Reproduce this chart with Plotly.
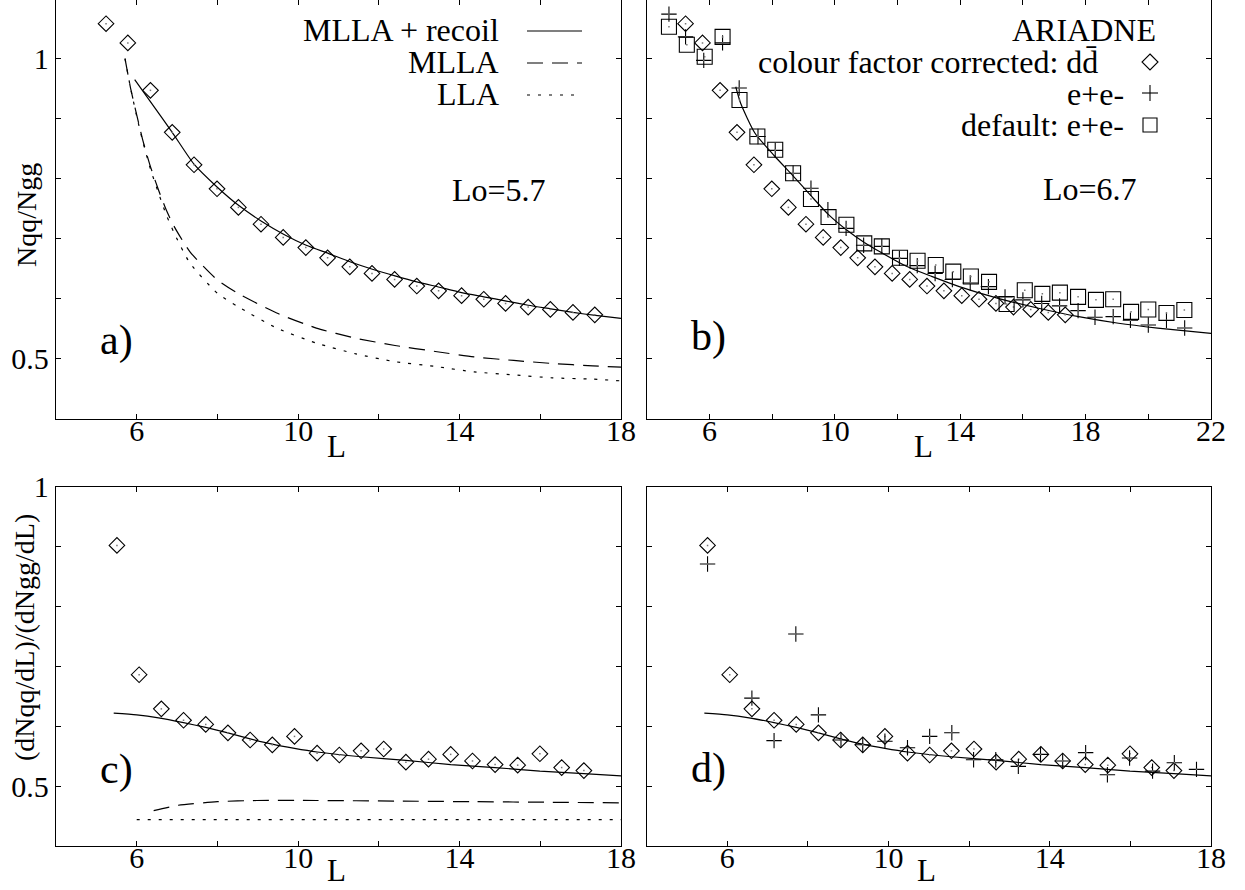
import plotly.graph_objects as go

# ---------------- data ----------------
# ARIADNE colour-factor-corrected d dbar (diamonds), panels a) and b)
L_dd = [5.24, 5.78, 6.34, 6.88, 7.42, 7.99, 8.52, 9.08, 9.63, 10.19, 10.73, 11.28,
        11.83, 12.39, 12.94, 13.48, 14.05, 14.6, 15.14, 15.70, 16.25, 16.81, 17.35]
N_dd = [1.058, 1.026, 0.947, 0.877, 0.823, 0.783, 0.752, 0.724, 0.702, 0.685, 0.668, 0.653,
        0.642, 0.632, 0.621, 0.613, 0.605, 0.599, 0.592, 0.586, 0.582, 0.577, 0.573]

# panel a) theory curves (Lo=5.7)
L_a_recoil = [5.95, 6.33, 6.88, 7.42, 7.99, 8.53, 9.09, 9.65, 10.2, 10.76, 11.3, 11.84,
              12.4, 12.94, 13.5, 14.05, 14.6, 15.16, 15.7, 16.26, 16.81, 17.37, 18.0]
N_a_recoil = [0.965, 0.929, 0.877, 0.824, 0.786, 0.755, 0.729, 0.707, 0.689, 0.675, 0.661, 0.649,
              0.638, 0.628, 0.619, 0.610, 0.603, 0.596, 0.589, 0.583, 0.577, 0.572, 0.567]
L_a_mlla = [5.71, 5.85, 6.0, 6.15, 6.34, 6.54, 6.73, 6.93, 7.32, 8.0, 8.5, 9.47, 10.45,
            11.43, 12.4, 13.4, 14.36, 15.34, 16.3, 17.3, 18.0]
N_a_mlla = [1.0, 0.950, 0.906, 0.864, 0.820, 0.781, 0.748, 0.720, 0.678, 0.631, 0.609, 0.576, 0.551,
            0.534, 0.522, 0.512, 0.503, 0.497, 0.492, 0.488, 0.486]
L_a_lla = [5.71, 5.85, 6.0, 6.15, 6.34, 6.54, 6.73, 6.93, 7.32, 8.0, 8.5, 9.47, 10.45,
           11.43, 12.4, 13.4, 14.36, 15.34, 16.3, 17.3, 18.0]
N_a_lla = [1.0, 0.950, 0.904, 0.862, 0.816, 0.776, 0.740, 0.709, 0.659, 0.609, 0.587, 0.551, 0.526,
           0.508, 0.495, 0.487, 0.478, 0.473, 0.468, 0.466, 0.463]

# panel b) ARIADNE e+e- (crosses) and default e+e- (squares), MLLA+recoil (Lo=6.7)
L_ee = [4.71, 5.24, 5.82, 6.42, 6.95, 7.55, 8.10, 8.67, 9.24, 9.78, 10.36, 10.92, 11.5, 12.06,
        12.63, 13.2, 13.75, 14.32, 14.9, 15.43, 16.0, 16.6, 17.17, 17.76, 18.3, 18.88, 19.43,
        20.0, 20.58, 21.16]
N_ee = [1.074, 1.036, 0.997, 1.026, 0.951, 0.870, 0.847, 0.809, 0.784, 0.748, 0.717, 0.689, 0.687,
        0.667, 0.655, 0.642, 0.632, 0.626, 0.620, 0.603, 0.598, 0.592, 0.588, 0.580, 0.569, 0.570,
        0.564, 0.556, 0.564, 0.551]
L_def = [4.71, 5.28, 5.85, 6.42, 6.96, 7.53, 8.10, 8.67, 9.24, 9.80, 10.37, 10.94, 11.5, 12.08,
         12.64, 13.22, 13.78, 14.34, 14.92, 15.48, 16.06, 16.62, 17.18, 17.76, 18.33, 18.88,
         19.45, 20.0, 20.58, 21.15]
N_def = [1.053, 1.023, 1.003, 1.036, 0.931, 0.870, 0.848, 0.809, 0.766, 0.736, 0.723, 0.692, 0.687,
         0.668, 0.663, 0.656, 0.645, 0.637, 0.628, 0.591, 0.614, 0.608, 0.610, 0.603, 0.598, 0.599,
         0.578, 0.582, 0.576, 0.581]
L_b_recoil = [6.84, 7.0, 7.45, 8.07, 8.66, 9.23, 9.8, 10.39, 10.93, 11.44, 12.32, 13.09, 13.97,
              15.24, 16.5, 17.78, 19.05, 20.3, 22.0]
N_b_recoil = [0.953, 0.925, 0.876, 0.838, 0.805, 0.772, 0.740, 0.714, 0.694, 0.678, 0.653, 0.637,
              0.620, 0.600, 0.584, 0.570, 0.559, 0.551, 0.542]

# panels c) and d): differential ratio
L_dif = [5.51, 6.06, 6.61, 7.16, 7.71, 8.26, 8.81, 9.36, 9.91, 10.47, 11.02, 11.56, 12.12, 12.67,
         13.23, 13.78, 14.32, 14.88, 15.44, 15.99, 16.53, 17.08]
R_dif = [0.902, 0.686, 0.629, 0.610, 0.603, 0.589, 0.577, 0.569, 0.583, 0.555, 0.552, 0.559, 0.562,
         0.540, 0.545, 0.553, 0.542, 0.536, 0.535, 0.554, 0.531, 0.526]
L_dif_ee = [5.51, 6.61, 7.16, 7.70, 8.26, 8.82, 9.36, 9.91, 10.47, 11.02, 11.57, 12.11, 12.66,
            13.22, 13.77, 14.32, 14.89, 15.43, 15.98, 16.55, 17.09, 17.64]
R_dif_ee = [0.871, 0.647, 0.576, 0.754, 0.619, 0.577, 0.569, 0.575, 0.564, 0.583, 0.589, 0.544,
            0.544, 0.533, 0.553, 0.542, 0.556, 0.519, 0.547, 0.525, 0.539, 0.528]
L_c_recoil = [5.43, 6.0, 6.54, 7.16, 7.71, 8.26, 8.81, 9.36, 9.91, 10.47, 11.56, 12.67, 13.78,
              14.88, 15.99, 17.08, 18.0]
R_c_recoil = [0.622, 0.619, 0.614, 0.606, 0.598, 0.589, 0.579, 0.570, 0.563, 0.557, 0.549, 0.543,
              0.536, 0.531, 0.525, 0.521, 0.517]
L_c_mlla = [6.42, 7.03, 8.0, 8.98, 10.45, 12.4, 14.36, 16.3, 18.0]
R_c_mlla = [0.459, 0.468, 0.474, 0.476, 0.476, 0.475, 0.474, 0.473, 0.472]
L_c_lla = [6.0, 18.0]
R_c_lla = [0.444, 0.444]

x_ticks_a = [6, 8, 10, 12, 14, 16, 18]
x_text_a = ["6", "", "10", "", "14", "", "18"]
x_ticks_b = [6, 8, 10, 12, 14, 16, 18, 20, 22]
x_text_b = ["6", "", "10", "", "14", "", "18", "", "22"]
y_ticks = [0.5, 0.6, 0.7, 0.8, 0.9, 1.0]
y_text = ["0.5", "", "", "", "", "1"]

# ---------------- figure ----------------
W, H = 1245, 890
SERIF = "Liberation Serif, Times New Roman, serif"
BLACK = "black"

fig = go.Figure()

def px(x):
    return x / W

def py(y):
    return 1 - y / H

def line_trace(x, y, xa, ya, dash="solid", smooth=True):
    return go.Scatter(x=x, y=y, xaxis=xa, yaxis=ya, mode="lines",
                      line=dict(color=BLACK, width=1.2, dash=dash,
                                shape="spline" if smooth else "linear", smoothing=0.6),
                      showlegend=False, hoverinfo="skip")

def marker_traces(x, y, xa, ya, symbol, size):
    return [go.Scatter(x=x, y=y, xaxis=xa, yaxis=ya, mode="markers",
                       marker=dict(symbol=symbol, size=size, color=BLACK,
                                   line=dict(color=BLACK, width=1.1)),
                       showlegend=False, hoverinfo="skip"),
            go.Scatter(x=x, y=y, xaxis=xa, yaxis=ya, mode="markers",
                       marker=dict(symbol="square", size=1.5, color="#777777", line=dict(width=0)),
                       showlegend=False, hoverinfo="skip")]

DIAM = ("diamond-open", 12)
CROSS = ("cross-thin-open", 11)
SQUARE = ("square-open", 15)

# panel a
fig.add_trace(line_trace(L_a_recoil, N_a_recoil, "x", "y"))
fig.add_trace(line_trace(L_a_mlla, N_a_mlla, "x", "y", dash="16px,9px"))
fig.add_trace(line_trace(L_a_lla, N_a_lla, "x", "y", dash="3px,8px"))
fig.add_traces(marker_traces(L_dd, N_dd, "x", "y", *DIAM))
# panel b
fig.add_trace(line_trace(L_b_recoil, N_b_recoil, "x2", "y2"))
fig.add_traces(marker_traces(L_dd, N_dd, "x2", "y2", *DIAM))
fig.add_traces(marker_traces(L_ee, N_ee, "x2", "y2", *CROSS))
fig.add_traces(marker_traces(L_def, N_def, "x2", "y2", *SQUARE))
# panel c
fig.add_trace(line_trace(L_c_recoil, R_c_recoil, "x3", "y3"))
fig.add_trace(line_trace(L_c_mlla, R_c_mlla, "x3", "y3", dash="16px,9px"))
fig.add_trace(line_trace(L_c_lla, R_c_lla, "x3", "y3", dash="3px,8px", smooth=False))
fig.add_traces(marker_traces(L_dif, R_dif, "x3", "y3", *DIAM))
# panel d
fig.add_trace(line_trace(L_c_recoil, R_c_recoil, "x4", "y4"))
fig.add_traces(marker_traces(L_dif, R_dif, "x4", "y4", *DIAM))
fig.add_traces(marker_traces(L_dif_ee, R_dif_ee, "x4", "y4", *CROSS))

axis_common = dict(showline=True, linecolor=BLACK, linewidth=1.3, mirror="allticks",
                   ticks="inside", ticklen=5, tickwidth=1, tickcolor=BLACK,
                   showgrid=False, zeroline=False, automargin=False,
                   tickfont=dict(family=SERIF, size=30, color=BLACK))
xax = dict(axis_common, ticklabelstandoff=-15)

dom_left = [56 / W, 621 / W]
dom_right = [646.7 / W, 1211 / W]
dom_top = [1 - 418.7 / H, 1.0]
dom_bot = [1 - 846 / H, 1 - 486.7 / H]

fig.update_layout(
    template="none",
    xaxis=dict(xax, domain=dom_left, range=[4, 18], tickvals=x_ticks_a, ticktext=x_text_a, anchor="y"),
    yaxis=dict(axis_common, domain=dom_top, range=[0.4, 1.0975], tickvals=y_ticks, ticktext=y_text, anchor="x"),
    xaxis2=dict(xax, domain=dom_right, range=[4, 22], tickvals=x_ticks_b, ticktext=x_text_b, anchor="y2"),
    yaxis2=dict(axis_common, domain=dom_top, range=[0.4, 1.0975], tickvals=y_ticks, showticklabels=False, anchor="x2"),
    xaxis3=dict(xax, domain=dom_left, range=[4, 18], tickvals=x_ticks_a, ticktext=x_text_a, anchor="y3"),
    yaxis3=dict(axis_common, domain=dom_bot, range=[0.4, 1.0], tickvals=y_ticks, ticktext=y_text, anchor="x3"),
    xaxis4=dict(xax, domain=dom_right, range=[4, 18], tickvals=x_ticks_a, ticktext=x_text_a, anchor="y4"),
    yaxis4=dict(axis_common, domain=dom_bot, range=[0.4, 1.0], tickvals=y_ticks, showticklabels=False, anchor="x4"),
    autosize=True, margin=dict(l=0, r=0, t=0, b=0, pad=0),
    paper_bgcolor="white", plot_bgcolor="white", showlegend=False,
)

annotations = []
def text(x, y, s, size=32, xanchor="center", yanchor="middle", angle=0):
    annotations.append(dict(x=px(x), y=py(y), xref="paper", yref="paper", text=s, showarrow=False,
                            xanchor=xanchor, yanchor=yanchor, textangle=angle, borderpad=0,
                            font=dict(family=SERIF, size=size, color=BLACK)))

# legend panel a
text(500, 30, "MLLA + recoil", xanchor="right")
text(500, 62, "MLLA", xanchor="right")
text(500, 94, "LLA", xanchor="right")
text(499, 190, "Lo=5.7")
# legend panel b
text(1157, 30, "ARIADNE", xanchor="right")
text(1099, 62, "colour factor corrected: dd\u0304", xanchor="right")
text(1125, 94, "e+e-", xanchor="right")
text(1125, 125, "default: e+e-", xanchor="right")
text(1090, 189, "Lo=6.7")
# panel labels
text(116, 340, "a)", size=42)
text(708, 336, "b)", size=42)
text(116, 769, "c)", size=42)
text(708, 768, "d)", size=42)
# axis titles
text(336, 446, "L", size=31)
text(923, 446, "L", size=31)
text(336, 889, "L", size=31, yanchor="bottom")
text(926, 889, "L", size=31, yanchor="bottom")
text(26, 215, "Nqq/Ngg", size=28, angle=-90)
text(24, 638, "(dNqq/dL)/(dNgg/dL)", size=28, angle=-90)

fig.update_layout(annotations=annotations)

# legend keys (decorative)
shapes = []
def key_line(x0, x1, y, dash):
    shapes.append(dict(type="line", xref="paper", yref="paper", x0=px(x0), x1=px(x1), y0=py(y), y1=py(y),
                       line=dict(color=BLACK, width=1.2, dash=dash)))
key_line(527, 582, 31, "solid")
key_line(527, 582, 63, "16px,9px")
key_line(527, 582, 95, "3px,8px")

def key_path(pts):
    d = "M " + " L ".join(f"{px(a)},{py(b)}" for a, b in pts) + " Z"
    shapes.append(dict(type="path", xref="paper", yref="paper", path=d,
                       line=dict(color=BLACK, width=1.1)))
cx, cy = 1150, 62
key_path([(cx, cy - 8), (cx + 8, cy), (cx, cy + 8), (cx - 8, cy)])
cx, cy = 1150, 125
key_path([(cx - 7, cy - 7), (cx + 7, cy - 7), (cx + 7, cy + 7), (cx - 7, cy + 7)])
cx, cy = 1150, 93
shapes.append(dict(type="line", xref="paper", yref="paper", x0=px(cx - 8), x1=px(cx + 8), y0=py(cy), y1=py(cy),
                   line=dict(color=BLACK, width=1.1)))
shapes.append(dict(type="line", xref="paper", yref="paper", x0=px(cx), x1=px(cx), y0=py(cy - 8), y1=py(cy + 8),
                   line=dict(color=BLACK, width=1.1)))
fig.update_layout(shapes=shapes)

fig.write_html("out.html", default_width="100vw", default_height="100vh",
               config={"displayModeBar": False},
               post_script="document.body.style.margin='0px';document.body.style.overflow='hidden';")
